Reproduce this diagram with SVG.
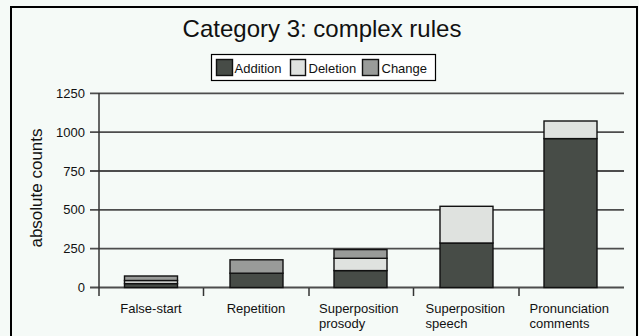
<svg xmlns="http://www.w3.org/2000/svg" width="639" height="336" viewBox="0 0 639 336">
<style>
  text { font-family: "Liberation Sans", Arial, sans-serif; fill: #111; }
  .grid { stroke: #4d4d4d; stroke-width: 1.8; fill: none; }
  .axis { stroke: #333; stroke-width: 1.5; fill: none; }
  .bar { stroke: #111; stroke-width: 1.4; }
  .add { fill: #474c47; }
  .del { fill: #dfe2df; }
  .chg { fill: #999b99; }
  .tick { font-size: 13px; text-anchor: end; }
  .cat { font-size: 13px; }
  .leg { font-size: 13px; }
</style>
<rect x="0" y="0" width="639" height="336" fill="#f5faf7"/>
<rect x="11" y="7" width="626" height="340" fill="#f5faf7" stroke="#000" stroke-width="2"/>

<g id="title">
  <text x="322" y="37" font-size="24" text-anchor="middle">Category 3: complex rules</text>
</g>

<g id="legend">
  <rect x="211.5" y="54.5" width="224" height="26" fill="#fff" stroke="#000" stroke-width="1.2"/>
  <rect x="216.5" y="59.5" width="16" height="16" class="add bar"/>
  <text x="234.5" y="72.5" class="leg">Addition</text>
  <rect x="290.5" y="59.5" width="15" height="16" class="del bar"/>
  <text x="308.5" y="72.5" class="leg">Deletion</text>
  <rect x="362.5" y="59.5" width="16" height="16" class="chg bar"/>
  <text x="381.5" y="72.5" class="leg">Change</text>
</g>

<g id="yaxis">
  <line class="grid" x1="90" y1="93.3" x2="624" y2="93.3"/>
  <line class="grid" x1="90" y1="132.1" x2="624" y2="132.1"/>
  <line class="grid" x1="90" y1="171" x2="624" y2="171"/>
  <line class="grid" x1="90" y1="209.8" x2="624" y2="209.8"/>
  <line class="grid" x1="90" y1="248.7" x2="624" y2="248.7"/>
  <line class="grid" x1="90" y1="287.5" x2="624" y2="287.5"/>
  <line class="axis" x1="99" y1="93" x2="99" y2="296"/>
  <text class="tick" x="85" y="97.8">1250</text>
  <text class="tick" x="85" y="136.6">1000</text>
  <text class="tick" x="85" y="175.5">750</text>
  <text class="tick" x="85" y="214.3">500</text>
  <text class="tick" x="85" y="253.2">250</text>
  <text class="tick" x="85" y="292">0</text>
  <text x="0" y="0" font-size="17" text-anchor="middle" transform="translate(42,188) rotate(-90)">absolute counts</text>
</g>

<g id="xaxis">
  <line class="axis" x1="203.5" y1="288" x2="203.5" y2="296"/>
  <line class="axis" x1="309" y1="288" x2="309" y2="296"/>
  <line class="axis" x1="413.5" y1="288" x2="413.5" y2="296"/>
  <line class="axis" x1="519" y1="288" x2="519" y2="296"/>
</g>

<g id="bar-false-start">
  <rect class="add bar" x="124.5" y="283.6" width="53" height="3.9"/>
  <rect class="del bar" x="124.5" y="280.5" width="53" height="3.1"/>
  <rect class="chg bar" x="124.5" y="276" width="53" height="4.5"/>
  <text class="cat" x="151" y="312.5" text-anchor="middle">False-start</text>
</g>

<g id="bar-repetition">
  <rect class="add bar" x="230" y="273.2" width="53" height="14.3"/>
  <rect class="chg bar" x="230" y="259.8" width="53" height="13.4"/>
  <text class="cat" x="256" y="312.5" text-anchor="middle">Repetition</text>
</g>

<g id="bar-superposition-prosody">
  <rect class="add bar" x="334" y="270.6" width="53" height="16.9"/>
  <rect class="del bar" x="334" y="258.3" width="53" height="12.3"/>
  <rect class="chg bar" x="334" y="249.6" width="53" height="8.7"/>
  <text class="cat" x="319" y="312.5">Superposition</text>
  <text class="cat" x="319" y="327.5">prosody</text>
</g>

<g id="bar-superposition-speech">
  <rect class="add bar" x="440" y="243" width="53" height="44.5"/>
  <rect class="del bar" x="440" y="206.3" width="53" height="36.7"/>
  <text class="cat" x="425.5" y="312.5">Superposition</text>
  <text class="cat" x="425.5" y="327.5">speech</text>
</g>

<g id="bar-pronunciation-comments">
  <rect class="add bar" x="544" y="138.6" width="53" height="148.9"/>
  <rect class="del bar" x="544" y="121" width="53" height="17.6"/>
  <text class="cat" x="529.5" y="312.5">Pronunciation</text>
  <text class="cat" x="529.5" y="327.5">comments</text>
</g>
</svg>
